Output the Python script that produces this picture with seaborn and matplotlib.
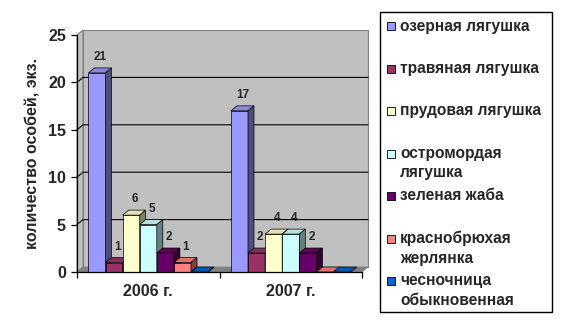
import matplotlib
matplotlib.use("Agg")
import matplotlib.pyplot as plt
from matplotlib.patches import Polygon, Rectangle
import seaborn as sns
import pandas as pd

# ---- data ----
years = ["2006 г.", "2007 г."]
species = ["озерная лягушка", "травяная лягушка", "прудовая лягушка",
           "остромордая\nлягушка", "зеленая жаба", "краснобрюхая\nжерлянка",
           "чесночница\nобыкновенная"]
counts_2006 = [21, 1, 6, 5, 2, 1, 0]
counts_2007 = [17, 2, 4, 4, 2, 0, 0]
colors = ["#9999FF", "#993366", "#FFFFCC", "#CCFFFF", "#660066", "#FF8080", "#0066CC"]
yticks = [0, 5, 10, 15, 20, 25]
ylabel = "количество особей, экз."

rows = []
for y, vals in zip(years, [counts_2006, counts_2007]):
    for s, v in zip(species, vals):
        rows.append({"year": y, "species": s, "count": v})
df = pd.DataFrame(rows)

sns.set_style("white")
plt.rcParams["font.family"] = ["Liberation Sans", "DejaVu Sans"]
plt.rcParams["font.weight"] = "bold"

W, H = 562, 325
fig = plt.figure(figsize=(W / 100, H / 100), dpi=100)
ax = fig.add_axes([77 / W, 53 / H, 285 / W, 237 / H])
ax.set_facecolor("none")

sns.barplot(data=df, x="year", y="count", hue="species", hue_order=species,
            order=years, palette=colors, saturation=1, width=0.84,
            edgecolor="black", linewidth=0.5, legend=False, ax=ax, errorbar=None)
bars = list(ax.patches)

ax.set_xlim(-0.5, 1.5)
ax.set_ylim(0, 25)

# depth offsets in data units (6px right, 5px up)
dx = 6 * 2.0 / 285
dy = 5 * 25.0 / 237
x0, x1 = -0.5, 1.5

# back wall, side wall, floor
ax.add_patch(Polygon([(x0 + dx, dy), (x1 + dx, dy), (x1 + dx, 25 + dy), (x0 + dx, 25 + dy)],
                     closed=True, facecolor="#C0C0C0", edgecolor="#808080", lw=0.8,
                     clip_on=False, zorder=0.5))
ax.add_patch(Polygon([(x0, 0), (x0, 25), (x0 + dx, 25 + dy), (x0 + dx, dy)],
                     closed=True, facecolor="#C0C0C0", edgecolor="#808080", lw=0.8,
                     clip_on=False, zorder=0.5))
for t in yticks[1:-1]:
    ax.plot([x0, x0 + dx, x1 + dx], [t, t + dy, t + dy], color="black", lw=0.8,
            clip_on=False, zorder=0.6)
ax.add_patch(Polygon([(x0, 0), (x1, 0), (x1 + dx, dy), (x0 + dx, dy)],
                     closed=True, facecolor="#808080", edgecolor="#808080", lw=0.5,
                     clip_on=False, zorder=0.7))


def shade(c, f):
    r, g, b = matplotlib.colors.to_rgb(c)
    return (r * f, g * f, b * f)


bars_sorted = sorted(bars, key=lambda p: p.get_x())
for i, p in enumerate(bars_sorted):
    base = 3 + i * 0.01
    p.set_zorder(base)
    p.set_clip_on(False)
    bx, bw, bh = p.get_x(), p.get_width(), p.get_height()
    fc = p.get_facecolor()
    top = Polygon([(bx, bh), (bx + bw, bh), (bx + bw + dx, bh + dy), (bx + dx, bh + dy)],
                  closed=True, facecolor=shade(fc, 0.88), edgecolor="black", lw=0.5,
                  clip_on=False, zorder=base + 0.001)
    side = Polygon([(bx + bw, 0), (bx + bw + dx, dy), (bx + bw + dx, bh + dy), (bx + bw, bh)],
                   closed=True, facecolor=shade(fc, 0.5), edgecolor="black", lw=0.5,
                   clip_on=False, zorder=base + 0.002)
    ax.add_patch(top)
    ax.add_patch(side)
    if bh > 0:
        ax.annotate(f"{int(round(bh))}", xy=(bx + bw / 2 + dx * 0.6, bh),
                    xytext=(0, 7), textcoords="offset points", ha="center",
                    va="bottom", fontsize=8.5, fontweight="bold", zorder=10)

# axes styling
for s in ["top", "right"]:
    ax.spines[s].set_visible(False)
for s in ["left", "bottom"]:
    ax.spines[s].set_color("black")
    ax.spines[s].set_linewidth(0.9)
    ax.spines[s].set_zorder(20)

ax.set_yticks(yticks)
ax.set_yticklabels([str(t) for t in yticks], fontsize=11.5, fontweight="bold")
ax.tick_params(axis="y", direction="out", length=4, width=0.9, color="black", left=True, pad=4)
ax.set_xticks([0, 1])
ax.set_xticklabels(years, fontsize=11.5, fontweight="bold")
ax.set_xticks([-0.5, 0.5, 1.5], minor=True)
ax.tick_params(axis="x", which="major", length=0, pad=9)
ax.tick_params(axis="x", which="minor", direction="out", length=4, width=0.9,
               color="black", bottom=True)
ax.set_xlabel("")
ax.set_ylabel(ylabel, fontsize=11.5, fontweight="bold")
ax.yaxis.set_label_coords(-0.128, 0.5)

# legend (Excel style: marker aligned with the first line)
tf = fig.transFigure
fig.patches.append(Rectangle((380 / W, 1 - 312 / H), 172 / W, 300 / H, transform=tf,
                             facecolor="white", edgecolor="black", lw=1.0))
for i, (name, c) in enumerate(zip(species, colors)):
    yc = 26 + i * 42.5
    fig.patches.append(Rectangle((387 / W, 1 - (yc + 4) / H), 8 / W, 8 / H, transform=tf,
                                 facecolor=c, edgecolor="black", lw=0.6))
    for k, line in enumerate(name.split("\n")):
        fig.text(400 / W, 1 - (yc + k * 19.5) / H, line, fontsize=11.2,
                 fontweight="bold", ha="left", va="center")

fig.savefig("out.png", dpi=100)
